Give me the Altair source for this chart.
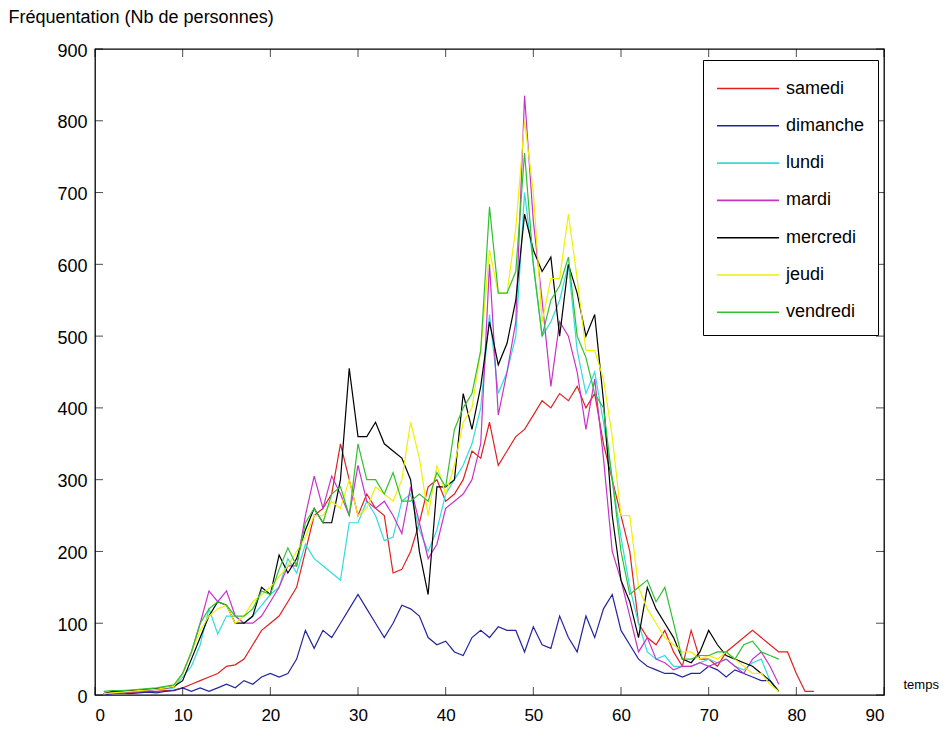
import altair as alt
import pandas as pd

days = ["samedi", "dimanche", "lundi", "mardi", "mercredi", "jeudi", "vendredi"]
colors = ["#e02020", "#2424a0", "#30dcdc", "#c832c8", "#000000", "#f0f000", "#30c030"]

samedi = [2, 3, 3, 4, 4, 5, 5, 6, 7, 10, 15, 20, 25, 30, 40, 42, 50, 70, 90, 100,
          110, 130, 150, 200, 250, 260, 280, 350, 300, 250, 280, 260, 250, 170, 175, 200, 240, 290, 300, 270,
          280, 300, 340, 330, 380, 320, 340, 360, 370, 390, 410, 400, 420, 410, 430, 400, 420, 350, 300, 250,
          200, 100, 80, 70, 90, 60, 40, 90, 50, 50, 40, 60, 70, 80, 90, 80, 70, 60, 60, 30,
          5, 5]
dimanche = [0, 2, 3, 2, 3, 4, 3, 5, 6, 10, 5, 10, 5, 10, 15, 10, 20, 15, 25, 30,
            25, 30, 50, 90, 65, 90, 80, 100, 120, 140, 120, 100, 80, 100, 125, 120, 110, 80, 70, 75,
            60, 55, 80, 90, 80, 95, 90, 90, 60, 95, 70, 65, 110, 80, 60, 110, 80, 120, 140, 90,
            70, 50, 40, 35, 30, 30, 25, 30, 30, 40, 35, 25, 35, 30, 25, 20, 20, 5]
lundi = [2, 3, 4, 5, 6, 6, 8, 9, 10, 25, 40, 70, 120, 85, 110, 110, 100, 110, 125, 140,
         150, 190, 170, 210, 190, 180, 170, 160, 240, 240, 270, 250, 215, 220, 270, 280, 230, 200, 230, 280,
         300, 320, 350, 400, 530, 420, 450, 500, 700, 600, 500, 520, 550, 600, 480, 420, 450, 380, 300, 220,
         150, 100, 60, 50, 55, 40, 40, 40, 45, 50, 45, 50, 40, 35, 45, 50, 20, 5]
mardi = [2, 3, 4, 5, 6, 6, 8, 9, 12, 30, 60, 100, 145, 130, 145, 110, 100, 100, 110, 130,
         150, 180, 180, 250, 305, 260, 305, 280, 250, 320, 270, 260, 270, 250, 225, 290, 240, 190, 210, 260,
         270, 280, 300, 350, 600, 390, 450, 520, 835, 660, 550, 430, 520, 500, 450, 370, 440, 330, 200, 160,
         110, 60, 80, 50, 45, 35, 40, 40, 45, 40, 45, 50, 40, 30, 50, 60, 40, 15]
mercredi = [2, 5, 5, 6, 7, 8, 9, 10, 12, 20, 50, 80, 110, 130, 125, 100, 100, 110, 150, 140,
            195, 170, 190, 230, 260, 240, 240, 300, 455, 360, 360, 380, 350, 340, 330, 300, 200, 140, 290, 290,
            300, 420, 370, 430, 520, 460, 490, 550, 670, 620, 590, 610, 500, 600, 560, 500, 530, 410, 250, 160,
            130, 80, 150, 120, 100, 80, 50, 45, 60, 90, 70, 55, 50, 45, 40, 30, 20, 5]
jeudi = [2, 3, 4, 5, 6, 7, 8, 10, 12, 30, 60, 90, 110, 120, 125, 100, 110, 130, 140, 150,
         165, 180, 200, 220, 250, 250, 270, 260, 300, 250, 260, 290, 280, 270, 300, 380, 330, 250, 320, 280,
         320, 380, 400, 480, 620, 560, 560, 650, 800, 700, 520, 580, 580, 670, 580, 480, 480, 440, 360, 250,
         250, 150, 120, 100, 80, 70, 60, 60, 50, 55, 50, 60, 50, 40, 30, 30, 15, 5]
vendredi = [5, 6, 6, 7, 8, 9, 10, 12, 14, 30, 60, 100, 120, 130, 125, 110, 110, 120, 145, 140,
            175, 205, 180, 240, 260, 240, 280, 290, 250, 350, 300, 300, 280, 310, 270, 270, 280, 270, 310, 290,
            370, 400, 420, 480, 680, 560, 560, 590, 755, 600, 500, 550, 570, 610, 500, 470, 420, 400, 300, 200,
            140, 150, 160, 130, 150, 100, 50, 50, 55, 55, 60, 60, 50, 70, 75, 60, 55, 50]

series = [samedi, dimanche, lundi, mardi, mercredi, jeudi, vendredi]

x_ticks = [0, 10, 20, 30, 40, 50, 60, 70, 80, 90]
y_ticks = [0, 100, 200, 300, 400, 500, 600, 700, 800, 900]

rows = []
for order, (d, vals) in enumerate(zip(days, series)):
    for i, v in enumerate(vals):
        rows.append({"jour": d, "ordre": order, "t": i + 1, "n": v})
df = pd.DataFrame(rows)

W, H = 789, 646
xs = alt.Scale(domain=[0, 90], nice=False, zero=False)
ys = alt.Scale(domain=[0, 900], nice=False)

x_axis = alt.Axis(values=x_ticks, title="temps", titleAngle=0, titleAlign="left",
                  titleBaseline="middle", titleX=808, titleY=-11, titleFontWeight="normal",
                  titleFontSize=13, grid=False, ticks=False, domain=False,
                  labelPadding=12, labelFontSize=17)
y_axis = alt.Axis(values=y_ticks, title="Fréquentation (Nb de personnes)", titleAngle=0,
                  titleAlign="left", titleBaseline="alphabetic", titleX=-87, titleY=-27,
                  titleFontWeight="normal", titleFontSize=18, grid=False, ticks=False,
                  domain=False, labelPadding=8, labelFontSize=18, labelOffset=2)

lines = alt.Chart(df).mark_line(strokeWidth=1.2, clip=True).encode(
    x=alt.X("t:Q", scale=xs, axis=x_axis),
    y=alt.Y("n:Q", scale=ys, axis=y_axis),
    color=alt.Color("jour:N", scale=alt.Scale(domain=days, range=colors), sort=days,
                    legend=alt.Legend(title=None, orient="none", legendX=608, legendY=11,
                                      symbolType="M-1,0H3.28", symbolSize=841, symbolStrokeWidth=1.6,
                                      labelFontSize=18, labelOffset=39, rowPadding=12.3,
                                      strokeColor="black", fillColor="white", padding=13)),
    order=alt.Order("ordre:Q"),
)

ytick_df = pd.DataFrame({"n": y_ticks})
xtick_df = pd.DataFrame({"t": x_ticks})

yl = alt.Chart(ytick_df).mark_tick(orient="horizontal", size=8, thickness=1, color="black").encode(
    y=alt.Y("n:Q", scale=ys, axis=y_axis), x=alt.value(4))
yr = alt.Chart(ytick_df).mark_tick(orient="horizontal", size=8, thickness=1, color="black").encode(
    y=alt.Y("n:Q", scale=ys, axis=y_axis), x=alt.value(W - 4))
xb = alt.Chart(xtick_df).mark_tick(orient="vertical", size=8, thickness=1, color="black").encode(
    x=alt.X("t:Q", scale=xs, axis=x_axis), y=alt.value(H - 4))
xt = alt.Chart(xtick_df).mark_tick(orient="vertical", size=8, thickness=1, color="black").encode(
    x=alt.X("t:Q", scale=xs, axis=x_axis), y=alt.value(4))

chart = alt.layer(lines, yl, yr, xb, xt).properties(
    width=W, height=H,
    autosize=alt.AutoSizeParams(type="none"),
    padding={"left": 87, "top": 41, "right": 55, "bottom": 30},
).configure_view(stroke="black", strokeWidth=1.3).configure_axis(
    labelFont="Liberation Sans", titleFont="Liberation Sans", labelColor="black", titleColor="black"
).configure_legend(labelFont="Liberation Sans", labelColor="black")

chart.save("out.html", embed_options={"renderer": "svg", "actions": False})
